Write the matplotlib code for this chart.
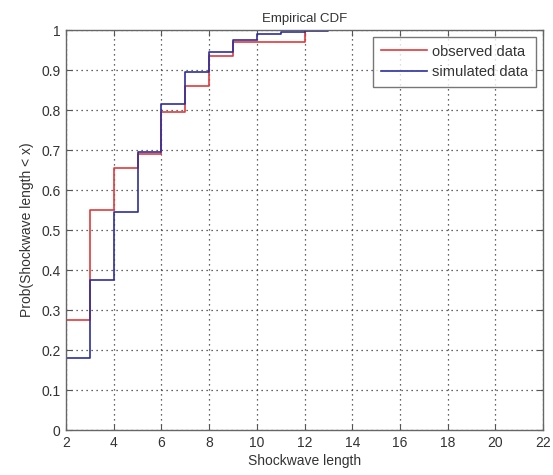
import matplotlib
matplotlib.use("Agg")
import matplotlib.pyplot as plt

plt.rcParams['font.family'] = ['Liberation Sans', 'DejaVu Sans']

# Step edges (shockwave length) and empirical CDF levels for each series
obs_x = [2, 3, 4, 5, 6, 7, 8, 9, 10, 12]
obs_y = [0.275, 0.55, 0.655, 0.69, 0.795, 0.86, 0.935, 0.97, 0.97, 1.0]

sim_x = [2, 3, 4, 5, 6, 7, 8, 9, 10, 11, 12, 13]
sim_y = [0.18, 0.375, 0.545, 0.695, 0.815, 0.895, 0.945, 0.975, 0.99, 0.995, 0.998, 1.0]

x_ticks = [2, 4, 6, 8, 10, 12, 14, 16, 18, 20, 22]
y_ticks = [0, 0.1, 0.2, 0.3, 0.4, 0.5, 0.6, 0.7, 0.8, 0.9, 1]
y_ticklabels = ['0', '0.1', '0.2', '0.3', '0.4', '0.5', '0.6', '0.7', '0.8', '0.9', '1']

fig = plt.figure(figsize=(5.53, 4.75), dpi=100)
ax = fig.add_axes([0.1193, 0.0947, 0.8627, 0.8421])


def stairs(xs, ys):
    # start from zero at the first edge, then hold each level until the next edge
    px = [xs[0]]
    py = [0.0]
    for i, (x, y) in enumerate(zip(xs, ys)):
        px.append(x)
        py.append(y)
        nx = xs[i + 1] if i + 1 < len(xs) else x
        px.append(nx)
        py.append(y)
    return px, py


ox, oy = stairs(obs_x, obs_y)
sx, sy = stairs(sim_x, sim_y)
ax.plot(ox, oy, color='#e0393b', lw=1.2, label='observed data')
ax.plot(sx, sy, color='#2e2e9e', lw=1.2, label='simulated data')

ax.set_xlim(2, 22)
ax.set_ylim(0, 1)
ax.set_xticks(x_ticks)
ax.set_yticks(y_ticks)
ax.set_yticklabels(y_ticklabels)

ax.grid(True, linestyle=(0, (1, 3)), color='#333333', lw=0.9)
ax.tick_params(direction='in', top=True, right=True, length=4, width=0.8,
               labelsize=10, colors='#555555', labelcolor='#333333', pad=4)
for s in ax.spines.values():
    s.set_color('#666666')
    s.set_linewidth(1.0)

ax.set_title('Empirical CDF', fontsize=9.5, color='#333333', pad=6)
ax.set_xlabel('Shockwave length', fontsize=10, color='#333333', labelpad=3)
ax.set_ylabel('Prob(Shockwave length < x)', fontsize=10, color='#333333', labelpad=5)

leg = ax.legend(loc='upper right', fontsize=10.5, frameon=True, fancybox=False,
                edgecolor='#555555', handlelength=3.2, borderpad=0.55,
                labelspacing=0.45, borderaxespad=0.45, handletextpad=0.35)
leg.get_frame().set_linewidth(1.0)
for t in leg.get_texts():
    t.set_color('#333333')

fig.savefig('out.png', dpi=100)
